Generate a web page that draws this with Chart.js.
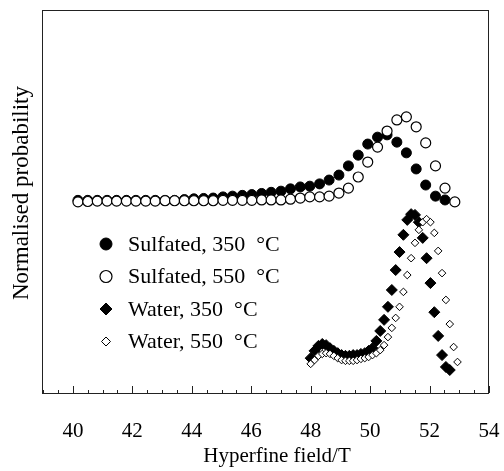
<!DOCTYPE html>
<html>
<head>
<meta charset="utf-8">
<script src="https://cdn.jsdelivr.net/npm/chart.js@4.4.1/dist/chart.umd.min.js"></script>
<style>
  html, body { margin: 0; padding: 0; background: #fff; }
  #wrap { width: 504px; height: 471px; position: relative; }
</style>
</head>
<body>
<div id="wrap"><canvas id="chart" width="504" height="471"></canvas></div>
<script>
// hyperfine field (T) grids
var sulfatedX = [40.17, 40.50, 40.82, 41.15, 41.47, 41.80, 42.12, 42.45, 42.77, 43.10,
                 43.42, 43.75, 44.07, 44.40, 44.72, 45.05, 45.37, 45.70, 46.02, 46.35,
                 46.67, 47.00, 47.32, 47.65, 47.97, 48.30, 48.62, 48.95, 49.27, 49.60,
                 49.92, 50.25, 50.57, 50.90, 51.22, 51.55, 51.87, 52.20, 52.52, 52.85];
var waterX = [48.00, 48.13, 48.26, 48.39, 48.52, 48.65, 48.78, 48.91, 49.04, 49.17,
              49.30, 49.43, 49.56, 49.69, 49.82, 49.95, 50.08, 50.21, 50.34, 50.47,
              50.60, 50.73, 50.86, 50.99, 51.12, 51.25, 51.38, 51.51, 51.64, 51.77,
              51.90, 52.03, 52.16, 52.29, 52.42, 52.55, 52.68, 52.81, 52.94];

// normalised probability (arbitrary units, curves are offset)
var sulfated350 = [50.3, 50.3, 50.3, 50.3, 50.3, 50.3, 50.3, 50.3, 50.3, 50.3,
                   50.3, 50.5, 50.7, 50.8, 50.9, 51.2, 51.4, 51.6, 51.8, 52.1,
                   52.4, 52.7, 53.3, 53.8, 54.0, 54.6, 55.6, 56.9, 59.3, 62.1,
                   65.0, 66.8, 67.4, 65.5, 62.7, 58.5, 54.3, 51.4, 50.4];
var sulfated550 = [49.9, 50.0, 50.1, 50.1, 50.1, 50.1, 50.1, 50.1, 50.1, 50.2,
                   50.2, 50.2, 50.2, 50.2, 50.2, 50.3, 50.3, 50.3, 50.3, 50.4,
                   50.4, 50.4, 50.6, 50.9, 51.2, 51.2, 51.4, 52.2, 53.5, 56.4,
                   60.3, 64.2, 68.4, 71.3, 72.1, 69.5, 65.3, 59.3, 53.5, 49.9];
var water350 = [9.1, 11.0, 12.3, 12.8, 12.5, 11.7, 11.0, 10.4, 9.9, 9.7,
                9.7, 9.9, 9.9, 10.2, 10.4, 11.0, 11.7, 13.6, 16.2, 19.1,
                22.5, 26.9, 32.1, 36.8, 41.3, 45.2, 46.7, 46.5, 44.6, 40.5,
                35.2, 28.7, 21.1, 14.9, 9.9, 6.8, 6.0];
var water550 = [7.6, 8.6, 9.7, 10.2, 10.4, 10.2, 9.7, 9.1, 8.6, 8.4,
                8.4, 8.4, 8.6, 8.9, 9.1, 9.4, 9.9, 10.4, 11.2, 12.5,
                14.6, 17.0, 19.6, 22.5, 26.4, 30.8, 35.2, 39.2, 42.6, 44.6,
                45.4, 44.6, 41.8, 37.1, 31.3, 24.3, 18.0, 12.0, 8.1];

var seriesLabels = ['Sulfated, 350 \u00B0C', 'Sulfated, 550 \u00B0C', 'Water, 350 \u00B0C', 'Water, 550 \u00B0C'];
var xTickLabels = [40, 42, 44, 46, 48, 50, 52, 54];
var xTitle = 'Hyperfine field/T';
var yTitle = 'Normalised probability';

var serif = '"Liberation Serif", "Times New Roman", serif';

function pts(xs, ys) {
    var out = [];
    for (var i = 0; i < ys.length; i++) out.push({x: xs[i], y: ys[i]});
    return out;
}

// frame, inward ticks, axis titles and in-plot legend
var framePlugin = {
    id: 'frame',
    afterDatasetsDraw: function(chart) {
        var ctx = chart.ctx;
        var a = chart.chartArea;
        var xs = chart.scales.x;
        ctx.save();
        ctx.strokeStyle = '#222';
        ctx.lineWidth = 1;
        ctx.strokeRect(a.left + 0.5, a.top + 0.5, a.right - a.left - 1, a.bottom - a.top);
        ctx.beginPath();
        for (var v = 39; v <= 54; v += 0.5) {
            var px = Math.round(xs.getPixelForValue(v)) + 0.5;
            var len = (v % 2 === 0) ? 7 : 3;
            ctx.moveTo(px, a.bottom);
            ctx.lineTo(px, a.bottom - len);
        }
        ctx.stroke();

        // axis titles
        ctx.fillStyle = '#000';
        ctx.textAlign = 'center';
        ctx.textBaseline = 'middle';
        ctx.font = '21px ' + serif;
        ctx.fillText(xTitle, 277, 456);
        ctx.save();
        ctx.translate(22, 193);
        ctx.rotate(-Math.PI / 2);
        ctx.font = '23px ' + serif;
        ctx.fillText(yTitle, 0, 0);
        ctx.restore();

        // legend
        var lx = 106, tx = 128, ly = 244, gap = 32.5;
        ctx.font = '22px ' + serif;
        ctx.textBaseline = 'middle';
        ctx.textAlign = 'left';
        chart.data.datasets.forEach(function(ds, i) {
            var y = ly + i * gap;
            var r = ds.legendRadius;
            ctx.fillStyle = ds.backgroundColor;
            ctx.strokeStyle = '#000';
            ctx.lineWidth = ds.borderWidth;
            ctx.beginPath();
            if (ds.pointStyle === 'circle') {
                ctx.arc(lx, y, r, 0, Math.PI * 2);
            } else {
                ctx.moveTo(lx, y - r);
                ctx.lineTo(lx + r, y);
                ctx.lineTo(lx, y + r);
                ctx.lineTo(lx - r, y);
                ctx.closePath();
            }
            ctx.fill();
            ctx.stroke();
            ctx.fillStyle = '#000';
            // the unit sits a little apart, as in the printed figure
            var parts = ds.label.split(' \u00B0');
            ctx.fillText(parts[0], tx, y + 1);
            var w = ctx.measureText(parts[0]).width;
            ctx.fillText('\u00B0' + parts[1], tx + w + 11, y + 1);
        });
        ctx.restore();
    }
};

var chart = new Chart(document.getElementById('chart'), {
    type: 'scatter',
    data: {
        datasets: [{
            label: seriesLabels[0],
            data: pts(sulfatedX, sulfated350),
            pointStyle: 'circle',
            pointRadius: 5,
            backgroundColor: '#000',
            borderColor: '#000',
            borderWidth: 1,
            legendRadius: 6,
            order: 4
        }, {
            label: seriesLabels[1],
            data: pts(sulfatedX, sulfated550),
            pointStyle: 'circle',
            pointRadius: 5,
            backgroundColor: '#fff',
            borderColor: '#000',
            borderWidth: 1.2,
            legendRadius: 6,
            order: 3
        }, {
            label: seriesLabels[2],
            data: pts(waterX, water350),
            pointStyle: 'rectRot',
            pointRadius: 5.5,
            backgroundColor: '#000',
            borderColor: '#000',
            borderWidth: 1,
            legendRadius: 6,
            order: 2
        }, {
            label: seriesLabels[3],
            data: pts(waterX, water550),
            pointStyle: 'rectRot',
            pointRadius: 3.8,
            backgroundColor: '#fff',
            borderColor: '#000',
            borderWidth: 1,
            legendRadius: 4.5,
            order: 1
        }]
    },
    options: {
        responsive: false,
        animation: false,
        layout: { padding: { top: 10, right: 15, left: 0, bottom: 0 } },
        plugins: { legend: { display: false }, tooltip: { enabled: false } },
        scales: {
            x: {
                type: 'linear',
                min: 38.96,
                max: 54,
                afterBuildTicks: function(scale) {
                    scale.ticks = xTickLabels.map(function(v) { return {value: v}; });
                },
                afterFit: function(scale) {
                    scale.height = 78;
                    scale.paddingLeft = 0;
                    scale.paddingRight = 0;
                },
                grid: { display: false },
                border: { display: false },
                ticks: { color: '#000', padding: 18, maxRotation: 0, font: { family: serif, size: 21 } }
            },
            y: {
                min: 0,
                max: 100,
                afterFit: function(scale) {
                    scale.width = 42;
                    scale.paddingTop = 0;
                    scale.paddingBottom = 0;
                },
                grid: { display: false },
                border: { display: false },
                ticks: { display: false }
            }
        }
    },
    plugins: [framePlugin]
});
</script>
</body>
</html>
